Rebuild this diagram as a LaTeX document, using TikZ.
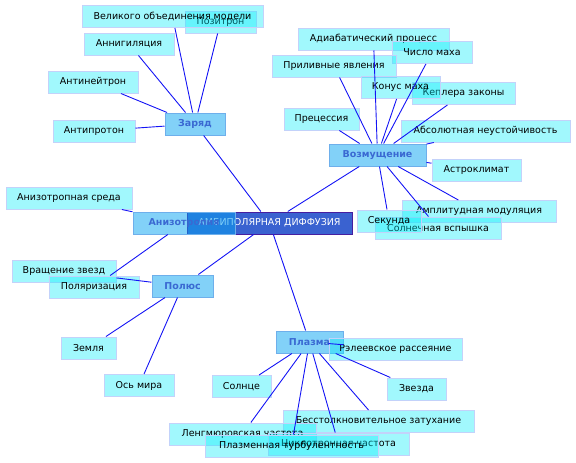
\documentclass[tikz,border=0pt]{standalone}
\usepackage{fontspec}
\setmainfont{DejaVu Sans}
\usepackage{xcolor}
\usetikzlibrary{positioning}
\definecolor{rootfill}{RGB}{58, 98, 208}
\definecolor{rootedge}{RGB}{70, 30, 160}
\definecolor{topicfill}{RGB}{6, 163, 241}
\definecolor{topicedge}{RGB}{110, 175, 235}
\definecolor{topictext}{RGB}{58, 105, 210}
\definecolor{leaffill}{RGB}{0, 236, 250}
\definecolor{leafedge}{RGB}{195, 210, 250}
\definecolor{linkblue}{RGB}{20, 20, 245}

\begin{document}
\begin{tikzpicture}[
    x=1pt, y=-1pt,
    root/.style={rectangle, draw=rootedge, fill=rootfill, line width=1pt,
                 minimum height=22pt, inner sep=0pt, text=white,
                 font=\fontsize{9.5}{11}\selectfont},
    topic/.style={rectangle, draw=topicedge, fill=topicfill, fill opacity=0.5,
                  text opacity=1, line width=1pt, minimum height=22pt, inner sep=0pt,
                  text=topictext, font=\fontsize{9.5}{11}\selectfont\bfseries},
    leaf/.style={rectangle, draw=leafedge, fill=leaffill, fill opacity=0.37,
                 draw opacity=1, text opacity=1, line width=1pt,
                 minimum height=22pt, inner sep=0pt,
                 font=\fontsize{9.5}{11}\selectfont},
    link/.style={draw=linkblue, line width=0.9pt}
]
\useasboundingbox (0,0) rectangle (576,463);

%% ── Centre ──────────────────────────────────────────────────────────────────
\node[root, minimum width=165] (ambi) at (269.5,223) {АМБИПОЛЯРНАЯ ДИФФУЗИЯ};

%% ── Заряд ───────────────────────────────────────────────────────────────────
\node[topic, minimum width=60] (charge) at (195,124) {Заряд};
\node[leaf, minimum width=71]  (positron) at (220.5,22) {Позитрон};
\node[leaf, minimum width=181] (gut)      at (172.5,16.5) {Великого объединения модели};
\node[leaf, minimum width=90]  (annih)    at (129,44) {Аннигиляция};
\node[leaf, minimum width=90]  (antineut) at (93,82) {Антинейтрон};
\node[leaf, minimum width=82]  (antiprot) at (94,131) {Антипротон};

%% ── Возмущение ──────────────────────────────────────────────────────────────
\node[topic, minimum width=97] (perturb) at (377.5,155) {Возмущение};
\node[leaf, minimum width=151] (adiab)   at (373.5,39) {Адиабатический процесс};
\node[leaf, minimum width=80]  (mach)    at (432,52.5) {Число маха};
\node[leaf, minimum width=124] (tidal)   at (334,66) {Приливные явления};
\node[leaf, minimum width=103] (kepler)  at (463.5,93.5) {Кеплера законы};
\node[leaf, minimum width=79]  (cone)    at (400.5,87.5) {Конус маха};
\node[leaf, minimum width=75]  (precess) at (321.5,119) {Прецессия};
\node[leaf, minimum width=169] (absinst) at (485.5,131) {Абсолютная неустойчивость};
\node[leaf, minimum width=89]  (climate) at (476.5,170) {Астроклимат};
\node[leaf, minimum width=154] (ampmod)  at (479,211.5) {Амплитудная модуляция};
\node[leaf, minimum width=126] (flare)   at (438,228) {Солнечная вспышка};
\node[leaf, minimum width=64]  (second)  at (389,221) {Секунда};

%% ── Анизотропия ─────────────────────────────────────────────────────────────
\node[topic, minimum width=102] (aniso) at (184,223) {Анизотропия};
\node[leaf, minimum width=126]  (anmed) at (69,198) {Анизотропная среда};
\node[leaf, minimum width=104]  (rotat) at (64,271.5) {Вращение звезд};
\node[leaf, minimum width=90]   (polar) at (94,287) {Поляризация};

%% ── Полюс ───────────────────────────────────────────────────────────────────
\node[topic, minimum width=61] (pole)  at (182.5,286) {Полюс};
\node[leaf, minimum width=55]  (earth) at (88.5,348) {Земля};
\node[leaf, minimum width=70]  (axis)  at (139,385.5) {Ось мира};

%% ── Плазма ──────────────────────────────────────────────────────────────────
\node[topic, minimum width=67] (plasma)   at (309.5,342) {Плазма};
\node[leaf, minimum width=133] (rayleigh) at (395.5,349) {Рэлеевское рассеяние};
\node[leaf, minimum width=59]  (sun)      at (241.5,386.5) {Солнце};
\node[leaf, minimum width=59]  (star)     at (416.5,389) {Звезда};
\node[leaf, minimum width=191] (landau)   at (378.5,421.5) {Бесстолкновительное затухание};
\node[leaf, minimum width=147] (langmuir) at (242.5,434) {Ленгмюровская частота};
\node[leaf, minimum width=141] (cyclo)    at (338.5,444) {Циклотронная частота};
\node[leaf, minimum width=173] (turb)     at (291.5,446) {Плазменная турбулентность};

%% ── Links ───────────────────────────────────────────────────────────────────
\foreach \a/\b in {ambi/charge, ambi/perturb, ambi/pole, ambi/plasma,
                   charge/gut, charge/positron, charge/annih, charge/antineut, charge/antiprot,
                   perturb/adiab, perturb/mach, perturb/tidal, perturb/cone, perturb/kepler,
                   perturb/precess, perturb/absinst, perturb/climate, perturb/ampmod,
                   perturb/flare, perturb/second,
                   aniso/anmed, aniso/polar,
                   pole/rotat, pole/earth, pole/axis,
                   plasma/rayleigh, plasma/sun, plasma/star, plasma/landau,
                   plasma/langmuir, plasma/cyclo, plasma/turb}
  \draw[link] (\a) -- (\b);

\end{tikzpicture}
\end{document}
